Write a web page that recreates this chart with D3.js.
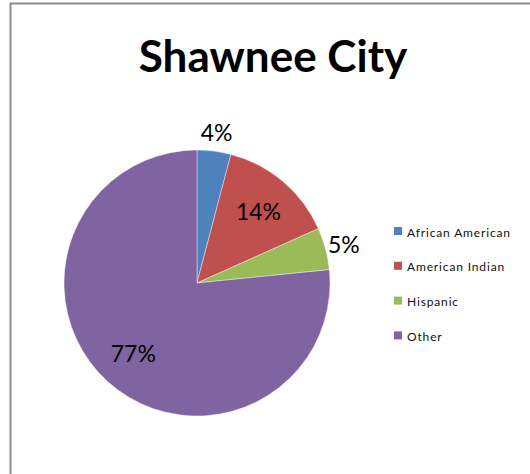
<!DOCTYPE html>
<html>
<head>
<meta charset="utf-8">
<script src="https://cdn.jsdelivr.net/npm/d3@7"></script>
<style>
  body { margin: 0; background: #fff; }
  svg { display: block; font-family: Lato, "Open Sans", sans-serif; }
</style>
</head>
<body>
<svg id="chart"></svg>
<script>
const width = 530
const height = 474

const title = 'Shawnee City'
const categories = ['African American', 'American Indian', 'Hispanic', 'Other']
const shares = [4.1, 14.2, 5.1, 76.6]
const colors = ['#4F81BD', '#C0504D', '#9BBB59', '#8064A2']

const cx = 197
const cy = 283
const radius = 133

const svg = d3.select('#chart')
  .attr('width', width)
  .attr('height', height)

// chart area border (only left and top show in the frame)
svg.append('rect')
  .attr('x', 10.5)
  .attr('y', 3.5)
  .attr('width', width + 20)
  .attr('height', height + 20)
  .attr('fill', 'none')
  .attr('stroke', '#8c8c8c')
  .attr('stroke-width', 2)

svg.append('text')
  .attr('x', 273)
  .attr('y', 72)
  .attr('text-anchor', 'middle')
  .attr('font-size', 44)
  .attr('font-weight', 'bold')
  .attr('fill', '#000')
  .text(title)

const color = d3.scaleOrdinal().domain(categories).range(colors)
const total = d3.sum(shares)
const data = categories.map((c, i) => ({ name: c, value: shares[i] }))

const pie = d3.pie().sort(null).value(d => d.value)
const arcs = pie(data)

const arc = d3.arc().innerRadius(0).outerRadius(radius)
const inLabel = d3.arc().innerRadius(95).outerRadius(95)
const outLabel = d3.arc().innerRadius(152).outerRadius(152)

const g = svg.append('g').attr('transform', `translate(${cx},${cy})`)

g.selectAll('path')
  .data(arcs)
  .enter()
  .append('path')
  .attr('d', arc)
  .attr('fill', d => color(d.data.name))
  .attr('stroke', '#fff')
  .attr('stroke-width', 0.4)

g.selectAll('text')
  .data(arcs)
  .enter()
  .append('text')
  .attr('transform', d => {
    const p = (d.data.value / total < 0.06 ? outLabel : inLabel).centroid(d)
    return `translate(${p[0]},${p[1] + 9})`
  })
  .attr('text-anchor', 'middle')
  .attr('font-size', 23)
  .attr('fill', '#000')
  .text(d => Math.round(d.data.value / total * 100) + '%')

/** legend */
const legend = svg.append('g').attr('transform', 'translate(394,227)')
const rows = legend.selectAll('g')
  .data(categories)
  .enter()
  .append('g')
  .attr('transform', (d, i) => `translate(0,${i * 34.8})`)

rows.append('rect')
  .attr('width', 8)
  .attr('height', 8)
  .attr('fill', d => color(d))

rows.append('text')
  .attr('x', 13)
  .attr('y', 9.5)
  .attr('font-size', 12)
  .attr('letter-spacing', 0.85)
  .attr('fill', '#111')
  .text(d => d)
</script>
</body>
</html>
